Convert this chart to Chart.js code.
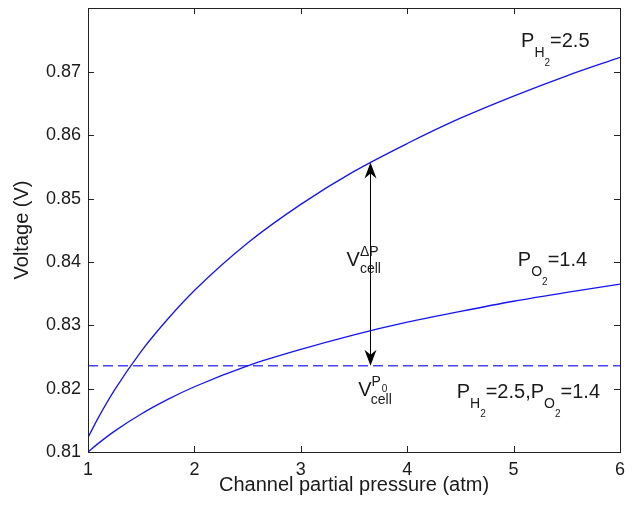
<!DOCTYPE html>
<html>
<head>
<meta charset="utf-8">
<script src="https://cdn.jsdelivr.net/npm/chart.js@4.4.1/dist/chart.umd.min.js"></script>
<style>
  html, body { margin: 0; padding: 0; background: #fff; }
</style>
</head>
<body>
<canvas id="voltage-chart" width="632" height="505"></canvas>
<script>
// channel partial pressure (atm)
var pressure = [1, 1.1, 1.25, 1.5, 1.75, 2, 2.5, 3, 3.5, 4, 4.5, 5, 5.5, 6];
// P_H2 varied curve (upper) and P_O2 varied curve (lower), volts
var voltH2 = [0.8123, 0.8155, 0.8198, 0.8259, 0.8310, 0.8355, 0.8430, 0.8491, 0.8543, 0.8587, 0.8627, 0.8662, 0.8694, 0.8723];
var voltO2 = [0.8100, 0.8114, 0.8133, 0.8160, 0.8183, 0.8203, 0.8236, 0.8262, 0.8285, 0.8305, 0.8322, 0.8338, 0.8352, 0.8365];
// reference voltage at P_H2=2.5, P_O2=1.4 (dashed)
var basePressure = [1, 6];
var baseVolt = [0.8236, 0.8236];
// delta arrow
var arrowPressure = 3.65;
var arrowVolt = [0.8236, 0.8557];

var xTicks = [1, 2, 3, 4, 5, 6];
var yTicks = [0.81, 0.82, 0.83, 0.84, 0.85, 0.86, 0.87];

var FONT = '"Liberation Sans", Arial, Helvetica, sans-serif';
var TEXT = '#1a1a1a';

function points(xs, ys) {
    return xs.map(function (x, i) { return { x: x, y: ys[i] }; });
}

// draws a run of text pieces: [text, size, dy, dx]
function drawRich(ctx, x, y, parts) {
    var cx = x;
    parts.forEach(function (p) {
        ctx.font = p[1] + 'px ' + FONT;
        if (p[3] === 'stack') {
            ctx.fillText(p[0], cx, y + p[2]);
            return;
        }
        if (typeof p[3] === 'number') cx = x + p[3];
        ctx.fillText(p[0], cx, y + p[2]);
        cx += ctx.measureText(p[0]).width;
    });
}

var decorPlugin = {
    id: 'decor',
    afterDraw: function (chart) {
        var ctx = chart.ctx;
        var a = chart.chartArea;
        var xs = chart.scales.x, ys = chart.scales.y;
        ctx.save();

        // box
        ctx.strokeStyle = '#222';
        ctx.lineWidth = 1;
        ctx.strokeRect(Math.round(a.left) + 0.5, Math.round(a.top) + 0.5, Math.round(a.right - a.left), Math.round(a.bottom - a.top));

        // inward ticks on all sides
        var tl = 6;
        ctx.beginPath();
        xTicks.forEach(function (v) {
            var px = Math.round(xs.getPixelForValue(v)) + 0.5;
            ctx.moveTo(px, a.bottom); ctx.lineTo(px, a.bottom - tl);
            ctx.moveTo(px, a.top); ctx.lineTo(px, a.top + tl);
        });
        yTicks.forEach(function (v) {
            var py = Math.round(ys.getPixelForValue(v)) + 0.5;
            ctx.moveTo(a.left, py); ctx.lineTo(a.left + tl, py);
            ctx.moveTo(a.right, py); ctx.lineTo(a.right - tl, py);
        });
        ctx.stroke();

        // double arrow
        var ax = Math.round(xs.getPixelForValue(arrowPressure)) + 0.5;
        var yLow = ys.getPixelForValue(arrowVolt[0]);
        var yHigh = ys.getPixelForValue(arrowVolt[1]);
        ctx.strokeStyle = '#000';
        ctx.fillStyle = '#000';
        ctx.beginPath();
        ctx.moveTo(ax, yHigh + 4); ctx.lineTo(ax, yLow - 4);
        ctx.stroke();
        function head(tipY, dir) {
            ctx.beginPath();
            ctx.moveTo(ax, tipY);
            ctx.lineTo(ax - 6, tipY + dir * 16);
            ctx.lineTo(ax, tipY + dir * 11);
            ctx.lineTo(ax + 6, tipY + dir * 16);
            ctx.closePath();
            ctx.fill();
        }
        head(yHigh, 1);
        head(yLow, -1);

        // labels
        ctx.fillStyle = TEXT;
        ctx.textAlign = 'left';
        ctx.textBaseline = 'alphabetic';

        drawRich(ctx, xs.getPixelForValue(5.07), ys.getPixelForValue(0.874), [
            ['P', 20, 0], ['H', 14, 10], ['2', 10, 19], ['=2.5', 20, 0]
        ]);
        drawRich(ctx, xs.getPixelForValue(5.04), ys.getPixelForValue(0.8393), [
            ['P', 20, 0], ['O', 14, 10], ['2', 10, 19], ['=1.4', 20, 0]
        ]);
        drawRich(ctx, xs.getPixelForValue(4.465), ys.getPixelForValue(0.8185), [
            ['P', 20, 0], ['H', 14, 10], ['2', 10, 19], ['=2.5,P', 20, 0],
            ['O', 14, 10], ['2', 10, 19], ['=1.4', 20, 0]
        ]);

        // V^dP_cell
        var vx = xs.getPixelForValue(3.43), vy = ys.getPixelForValue(0.8393);
        drawRich(ctx, vx, vy, [['V', 20, 0], ['\u0394P', 14, -10, 'stack'], ['cell', 14, 7, 'stack']]);
        // V^P0_cell
        var wx = xs.getPixelForValue(3.54), wy = ys.getPixelForValue(0.8189);
        drawRich(ctx, wx, wy, [['V', 20, 0], ['P', 14, -10, 'stack']]);
        ctx.font = '10px ' + FONT;
        ctx.fillText('0', wx + 23.5, wy - 3.5);
        ctx.font = '14px ' + FONT;
        ctx.fillText('cell', wx + 12.5, wy + 8.5);

        ctx.restore();
    }
};

var chart = new Chart(document.getElementById('voltage-chart'), {
    type: 'line',
    data: {
        datasets: [
            {
                data: points(pressure, voltH2),
                borderColor: '#1414f5',
                borderWidth: 1.3,
                pointRadius: 0,
                cubicInterpolationMode: 'monotone'
            },
            {
                data: points(pressure, voltO2),
                borderColor: '#1414f5',
                borderWidth: 1.3,
                pointRadius: 0,
                cubicInterpolationMode: 'monotone'
            },
            {
                data: points(basePressure, baseVolt),
                borderColor: '#4646f8',
                borderWidth: 1.5,
                borderDash: [10, 5],
                pointRadius: 0
            }
        ]
    },
    options: {
        responsive: false,
        animation: false,
        devicePixelRatio: 1,
        layout: { padding: { top: 8, right: 12, left: 0, bottom: 0 } },
        plugins: {
            legend: { display: false },
            tooltip: { enabled: false }
        },
        scales: {
            x: {
                type: 'linear',
                min: 1,
                max: 6,
                grid: { display: false, drawTicks: false },
                border: { display: false },
                afterBuildTicks: function (s) { s.ticks = xTicks.map(function (v) { return { value: v }; }); },
                afterFit: function (s) { s.height = 53; s.paddingLeft = 0; s.paddingRight = 0; },
                ticks: {
                    padding: 7,
                    color: TEXT,
                    font: { family: FONT, size: 18 },
                    maxRotation: 0,
                    callback: function (v) { return String(v); }
                },
                title: {
                    display: true,
                    text: 'Channel partial pressure (atm)',
                    color: TEXT,
                    font: { family: FONT, size: 20 },
                    padding: { top: 8, bottom: 8 }
                }
            },
            y: {
                min: 0.81,
                max: 0.8801,
                grid: { display: false, drawTicks: false },
                border: { display: false },
                afterBuildTicks: function (s) { s.ticks = yTicks.map(function (v) { return { value: v }; }); },
                afterFit: function (s) { s.width = 88; s.paddingTop = 0; s.paddingBottom = 0; },
                ticks: {
                    padding: 7,
                    color: TEXT,
                    font: { family: FONT, size: 18 },
                    callback: function (v) { return v.toFixed(2); }
                },
                title: {
                    display: true,
                    text: 'Voltage (V)',
                    color: TEXT,
                    font: { family: FONT, size: 20 },
                    padding: { top: 10, bottom: 10 }
                }
            }
        }
    },
    plugins: [decorPlugin]
});
</script>
</body>
</html>
